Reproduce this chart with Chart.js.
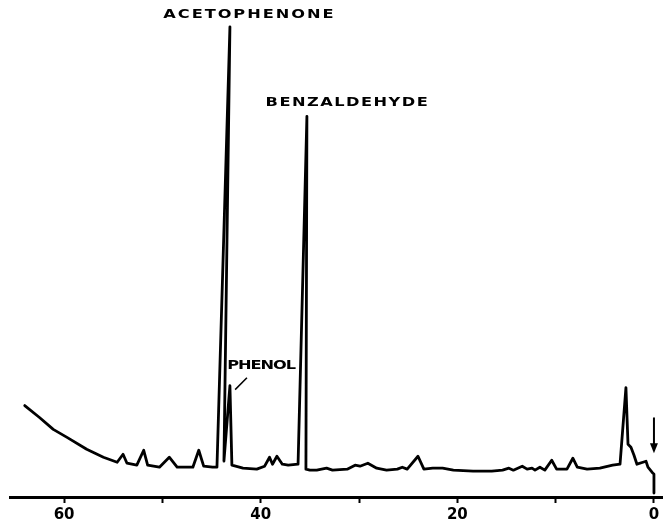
<!DOCTYPE html>
<html>
<head>
<meta charset="utf-8">
<script src="https://cdn.jsdelivr.net/npm/chart.js@4"></script>
<style>
  body { margin: 0; background: #fff; }
  #chrom { display: block; }
</style>
</head>
<body>
<canvas id="chrom" width="663" height="527"></canvas>
<script>
/*---------data-----------*/
// retention time (min) and detector signal (% of full scale)
const retention = [
    64.0, 62.5, 61.1, 59.7, 57.7, 56.0, 54.6, 54.0, 53.6, 52.6,
    51.9, 51.5, 50.3, 49.3, 48.5, 46.9, 46.3, 45.8, 44.9, 44.45,
    43.13, 43.74, 43.13, 42.93, 41.8, 40.4, 39.6, 39.1, 38.8, 38.35,
    37.8, 37.2, 36.2, 35.3, 35.4, 35.0, 34.3, 33.3, 32.7, 31.2,
    30.4, 29.9, 29.1, 28.2, 27.2, 26.1, 25.6, 25.1, 24.0, 23.4,
    22.5, 21.5, 20.4, 18.4, 16.5, 15.4, 14.75, 14.3, 13.4, 12.9,
    12.4, 12.1, 11.6, 11.1, 10.4, 9.9, 8.85, 8.25, 7.8, 6.8,
    5.5, 4.2, 3.45, 2.85, 2.64, 2.34, 2.03, 1.73, 1.12, 0.81,
    0.61, 0.2, 0.0, 0.0
];
const signal = [
    18.4, 16.0, 13.6, 12.0, 9.6, 8.0, 7.0, 8.6, 6.8, 6.4,
    9.4, 6.4, 6.0, 8.0, 6.0, 6.0, 9.4, 6.2, 6.0, 6.0,
    94.6, 7.2, 22.4, 6.4, 5.8, 5.6, 6.2, 8.0, 6.6, 8.2,
    6.6, 6.4, 6.6, 76.6, 5.6, 5.4, 5.4, 5.8, 5.4, 5.6,
    6.4, 6.2, 6.8, 5.8, 5.4, 5.6, 6.0, 5.6, 8.2, 5.6,
    5.8, 5.8, 5.4, 5.2, 5.2, 5.4, 5.8, 5.4, 6.2, 5.6,
    5.8, 5.4, 6.0, 5.4, 7.4, 5.6, 5.6, 7.8, 6.0, 5.6,
    5.8, 6.4, 6.6, 22.0, 10.6, 10.0, 8.4, 6.6, 7.0, 7.2,
    6.0, 5.0, 4.6, 0.8
];
const tickLabels = [0, 20, 40, 60];
const peakNames = ['ACETOPHENONE', 'BENZALDEHYDE', 'PHENOL'];

/*---------peak labels + injection arrow-----------*/
// x0/x1 = left/right end of the lettering in minutes, y = signal level
const peakLabels = [
    { text: peakNames[0], x0: 49.9, x1: 32.6, y: 97.0 },
    { text: peakNames[1], x0: 39.5, x1: 23.0, y: 79.4 },
    { text: peakNames[2], x0: 43.4, x1: 36.4, y: 26.4 }
];

const labelPlugin = {
    id: 'peakLabels',
    afterDatasetsDraw(chart) {
        const ctx = chart.ctx;
        const xs = chart.scales.x;
        const ys = chart.scales.y;
        const stretch = 1.35;
        ctx.save();
        ctx.fillStyle = '#000';
        ctx.strokeStyle = '#000';
        ctx.font = 'bold 12px "DejaVu Sans"';
        ctx.textBaseline = 'middle';

        peakLabels.forEach(lbl => {
            const chars = lbl.text.split('');
            const left = xs.getPixelForValue(lbl.x0);
            const right = xs.getPixelForValue(lbl.x1);
            const py = ys.getPixelForValue(lbl.y);
            let inked = 0;
            chars.forEach(c => { inked += ctx.measureText(c).width * stretch; });
            const gap = (right - left - inked) / (chars.length - 1);
            let px = left;
            chars.forEach(c => {
                const w = ctx.measureText(c).width * stretch;
                ctx.save();
                ctx.translate(px, py);
                ctx.scale(stretch, 1);
                ctx.fillText(c, 0, 0);
                ctx.restore();
                px += w + gap;
            });
        });

        // leader from phenol label to its peak
        ctx.lineWidth = 1.5;
        ctx.beginPath();
        ctx.moveTo(xs.getPixelForValue(42.6), ys.getPixelForValue(21.6));
        ctx.lineTo(xs.getPixelForValue(41.4), ys.getPixelForValue(24.0));
        ctx.stroke();

        // injection arrow at t = 0
        const ax = xs.getPixelForValue(0);
        ctx.lineWidth = 2;
        ctx.beginPath();
        ctx.moveTo(ax, ys.getPixelForValue(16.0));
        ctx.lineTo(ax, ys.getPixelForValue(10.4));
        ctx.stroke();
        ctx.beginPath();
        ctx.moveTo(ax - 4, ys.getPixelForValue(10.8));
        ctx.lineTo(ax + 4, ys.getPixelForValue(10.8));
        ctx.lineTo(ax, ys.getPixelForValue(8.8));
        ctx.closePath();
        ctx.fill();
        ctx.restore();
    }
};

/*---------chart-----------*/
const ctx = document.getElementById('chrom').getContext('2d');
const chromChart = new Chart(ctx, {
    type: 'line',
    data: {
        datasets: [{
            data: retention.map((t, i) => ({ x: t, y: signal[i] })),
            borderColor: '#000',
            borderWidth: 2.8,
            borderJoinStyle: 'round',
            borderCapStyle: 'round',
            pointRadius: 0,
            tension: 0,
            fill: false
        }]
    },
    options: {
        responsive: false,
        animation: false,
        devicePixelRatio: 1,
        layout: { padding: { left: 10, right: 0, top: 0, bottom: 0 } },
        plugins: {
            legend: { display: false },
            tooltip: { enabled: false }
        },
        scales: {
            x: {
                type: 'linear',
                reverse: true,
                min: -0.92,
                max: 65.5,
                border: { display: true, color: '#000', width: 3 },
                grid: {
                    display: true,
                    drawOnChartArea: false,
                    drawTicks: true,
                    tickLength: 6,
                    tickWidth: 2,
                    tickColor: '#000'
                },
                ticks: {
                    stepSize: 10,
                    includeBounds: false,
                    maxRotation: 0,
                    autoSkip: false,
                    padding: 3,
                    color: '#000',
                    font: { family: 'DejaVu Sans', size: 15, weight: 'bold' },
                    callback: v => tickLabels.includes(v) ? String(v) : ''
                }
            },
            y: {
                display: false,
                min: 0,
                max: 100
            }
        }
    },
    plugins: [labelPlugin]
});
</script>
</body>
</html>
